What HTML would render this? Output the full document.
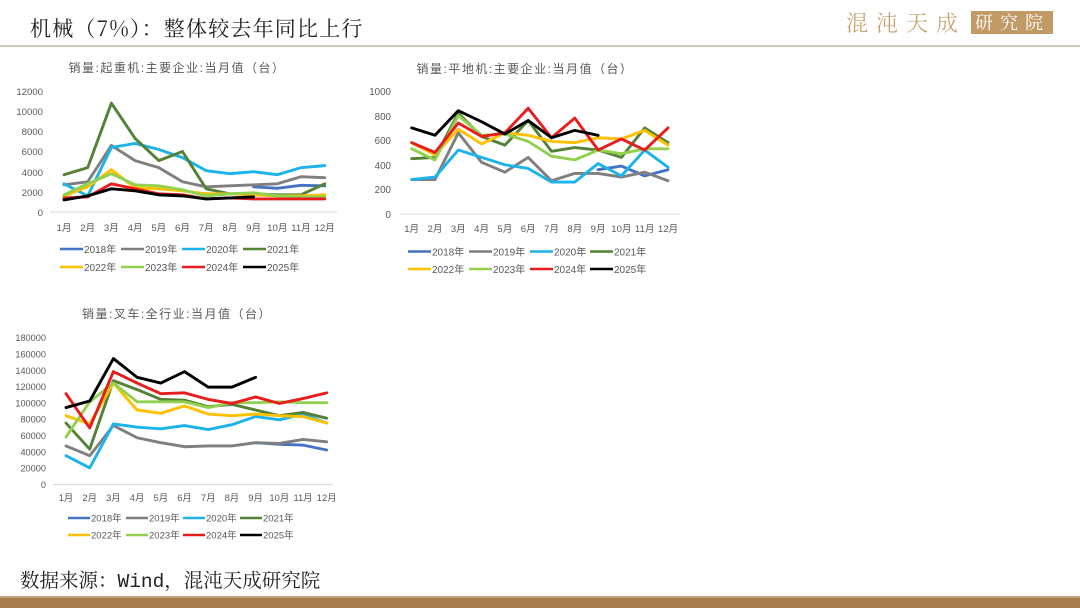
<!DOCTYPE html>
<html><head><meta charset="utf-8"><style>
html,body{margin:0;padding:0;background:#fff;}
body{width:1080px;height:608px;overflow:hidden;position:relative;font-family:"Liberation Sans","Noto Sans CJK SC",sans-serif;}
svg{position:absolute;left:0;top:0;}
.t{font-family:"Liberation Sans","Noto Sans CJK SC",sans-serif;fill:#595959;}
.ln{fill:none;stroke-width:2.9;stroke-linejoin:round;stroke-linecap:round;}
</style></head><body>
<svg width="1080" height="608" viewBox="0 0 1080 608">
<!-- header -->
<text x="30" y="36" font-family="'Noto Serif CJK SC','WenQuanYi Zen Hei',serif" font-size="21" fill="#222" letter-spacing="1.2">机械（7%）：整体较去年同比上行</text>
<rect x="0" y="45" width="1080" height="2" fill="#cdc8bb"/>
<text x="846" y="31" font-family="'Noto Serif CJK SC',serif" font-size="22" font-weight="300" fill="#c39b63" letter-spacing="8">混沌天成</text>
<rect x="971" y="11" width="82" height="23" fill="#c19a66"/>
<text x="975" y="29" font-family="'Noto Serif CJK SC',serif" font-size="18" fill="#fff" letter-spacing="7">研究院</text>

<!-- footer -->
<text x="20" y="587" font-family="'Liberation Mono','Noto Serif CJK SC',serif" font-size="19.5" fill="#222">数据来源：Wind，混沌天成研究院</text>
<rect x="0" y="596" width="1080" height="12" fill="#a67c4b"/>
<rect x="0" y="596" width="1080" height="2" fill="#c2a27a"/>

<!-- ================= Chart 1 ================= -->
<text class="t" x="177" y="72" font-size="12" text-anchor="middle" letter-spacing="1.5">销量:起重机:主要企业:当月值（台）</text>
<g class="t" font-size="9.6" text-anchor="end">
<text x="43" y="95">12000</text><text x="43" y="115">10000</text><text x="43" y="135">8000</text>
<text x="43" y="155">6000</text><text x="43" y="176">4000</text><text x="43" y="196">2000</text><text x="43" y="216">0</text>
</g>
<line x1="50" y1="212" x2="337" y2="212" stroke="#d9d9d9" stroke-width="1"/>
<g class="t" font-size="9.6" text-anchor="middle">
<text x="64" y="231">1月</text><text x="87.7" y="231">2月</text><text x="111.4" y="231">3月</text><text x="135.1" y="231">4月</text>
<text x="158.8" y="231">5月</text><text x="182.5" y="231">6月</text><text x="206.2" y="231">7月</text><text x="229.9" y="231">8月</text>
<text x="253.6" y="231">9月</text><text x="277.3" y="231">10月</text><text x="301" y="231">11月</text><text x="324.7" y="231">12月</text>
</g>
<g transform="translate(64,212) scale(23.7,-10.08)">
<polyline class="ln" vector-effect="non-scaling-stroke" stroke="#4472c4" points="8,2.5 9,2.35 10,2.65 11,2.6"/>
<polyline class="ln" vector-effect="non-scaling-stroke" stroke="#7f7f7f" points="0,2.7 1,3.0 2,6.6 3,5.1 4,4.4 5,3.0 6,2.5 7,2.6 8,2.7 9,2.8 10,3.5 11,3.4"/>
<polyline class="ln" vector-effect="non-scaling-stroke" stroke="#1cb2ea" points="0,2.8 1,1.6 2,6.4 3,6.8 4,6.2 5,5.4 6,4.1 7,3.8 8,4.0 9,3.7 10,4.4 11,4.6"/>
<polyline class="ln" vector-effect="non-scaling-stroke" stroke="#548235" points="0,3.7 1,4.4 2,10.8 3,7.3 4,5.1 5,6.0 6,2.3 7,1.8 8,1.8 9,1.7 10,1.7 11,2.8"/>
<polyline class="ln" vector-effect="non-scaling-stroke" stroke="#ffc000" points="0,1.6 1,2.5 2,4.2 3,2.4 4,2.3 5,2.1 6,1.8 7,1.8 8,1.7 9,1.6 10,1.6 11,1.7"/>
<polyline class="ln" vector-effect="non-scaling-stroke" stroke="#92d050" points="0,1.7 1,2.8 2,3.8 3,2.7 4,2.6 5,2.2 6,1.6 7,1.8 8,1.9 9,1.6 10,1.5 11,1.5"/>
<polyline class="ln" vector-effect="non-scaling-stroke" stroke="#e81c1c" points="0,1.4 1,1.5 2,2.8 3,2.3 4,1.8 5,1.7 6,1.3 7,1.4 8,1.3 9,1.3 10,1.3 11,1.3"/>
<polyline class="ln" vector-effect="non-scaling-stroke" stroke="#000" points="0,1.2 1,1.6 2,2.3 3,2.1 4,1.7 5,1.6 6,1.3 7,1.4 8,1.5"/>
</g>
<g class="t" font-size="10">
<line x1="60" y1="249" x2="83" y2="249" stroke="#4472c4" stroke-width="2.6"/><text x="84" y="253">2018年</text>
<line x1="121" y1="249" x2="144" y2="249" stroke="#7f7f7f" stroke-width="2.6"/><text x="145" y="253">2019年</text>
<line x1="182" y1="249" x2="205" y2="249" stroke="#1cb2ea" stroke-width="2.6"/><text x="206" y="253">2020年</text>
<line x1="243" y1="249" x2="266" y2="249" stroke="#548235" stroke-width="2.6"/><text x="267" y="253">2021年</text>
<line x1="60" y1="267" x2="83" y2="267" stroke="#ffc000" stroke-width="2.6"/><text x="84" y="271">2022年</text>
<line x1="121" y1="267" x2="144" y2="267" stroke="#92d050" stroke-width="2.6"/><text x="145" y="271">2023年</text>
<line x1="182" y1="267" x2="205" y2="267" stroke="#e81c1c" stroke-width="2.6"/><text x="206" y="271">2024年</text>
<line x1="243" y1="267" x2="266" y2="267" stroke="#000" stroke-width="2.6"/><text x="267" y="271">2025年</text>
</g>

<!-- ================= Chart 2 ================= -->
<text class="t" x="525" y="73" font-size="12" text-anchor="middle" letter-spacing="1.5">销量:平地机:主要企业:当月值（台）</text>
<g class="t" font-size="9.8" text-anchor="end">
<text x="391" y="95">1000</text><text x="391" y="120">800</text><text x="391" y="144">600</text>
<text x="391" y="169">400</text><text x="391" y="193">200</text><text x="391" y="218">0</text>
</g>
<line x1="400" y1="214" x2="680" y2="214" stroke="#d9d9d9" stroke-width="1"/>
<g class="t" font-size="9.6" text-anchor="middle">
<text x="411.7" y="232">1月</text><text x="435" y="232">2月</text><text x="458.3" y="232">3月</text><text x="481.6" y="232">4月</text>
<text x="504.9" y="232">5月</text><text x="528.2" y="232">6月</text><text x="551.5" y="232">7月</text><text x="574.8" y="232">8月</text>
<text x="598.1" y="232">9月</text><text x="621.4" y="232">10月</text><text x="644.7" y="232">11月</text><text x="668" y="232">12月</text>
</g>
<g transform="translate(411.7,214) scale(23.3,-12.3)">
<polyline class="ln" vector-effect="non-scaling-stroke" stroke="#4472c4" points="8,3.6 9,3.9 10,3.1 11,3.6"/>
<polyline class="ln" vector-effect="non-scaling-stroke" stroke="#7f7f7f" points="0,2.8 1,2.8 2,6.6 3,4.2 4,3.4 5,4.6 6,2.7 7,3.3 8,3.3 9,3.0 10,3.4 11,2.7"/>
<polyline class="ln" vector-effect="non-scaling-stroke" stroke="#1cb2ea" points="0,2.8 1,3.0 2,5.2 3,4.6 4,4.0 5,3.7 6,2.6 7,2.6 8,4.1 9,3.1 10,5.2 11,3.8"/>
<polyline class="ln" vector-effect="non-scaling-stroke" stroke="#548235" points="0,4.5 1,4.6 2,8.2 3,6.3 4,5.6 5,7.6 6,5.1 7,5.4 8,5.2 9,4.6 10,7.0 11,5.8"/>
<polyline class="ln" vector-effect="non-scaling-stroke" stroke="#ffc000" points="0,5.8 1,4.8 2,6.9 3,5.7 4,6.6 5,6.4 6,5.9 7,5.8 8,6.2 9,6.1 10,6.8 11,5.6"/>
<polyline class="ln" vector-effect="non-scaling-stroke" stroke="#92d050" points="0,5.3 1,4.4 2,8.0 3,6.4 4,6.5 5,5.9 6,4.7 7,4.4 8,5.2 9,4.9 10,5.3 11,5.3"/>
<polyline class="ln" vector-effect="non-scaling-stroke" stroke="#e81c1c" points="0,5.8 1,5.0 2,7.4 3,6.3 4,6.6 5,8.6 6,6.2 7,7.8 8,5.2 9,6.1 10,5.2 11,7.0"/>
<polyline class="ln" vector-effect="non-scaling-stroke" stroke="#000" points="0,7.0 1,6.4 2,8.4 3,7.5 4,6.5 5,7.6 6,6.2 7,6.8 8,6.4"/>
</g>
<g class="t" font-size="10">
<line x1="408" y1="251.5" x2="431" y2="251.5" stroke="#4472c4" stroke-width="2.6"/><text x="432" y="255.5">2018年</text>
<line x1="469" y1="251.5" x2="492" y2="251.5" stroke="#7f7f7f" stroke-width="2.6"/><text x="493" y="255.5">2019年</text>
<line x1="530" y1="251.5" x2="553" y2="251.5" stroke="#1cb2ea" stroke-width="2.6"/><text x="554" y="255.5">2020年</text>
<line x1="590" y1="251.5" x2="613" y2="251.5" stroke="#548235" stroke-width="2.6"/><text x="614" y="255.5">2021年</text>
<line x1="408" y1="269" x2="431" y2="269" stroke="#ffc000" stroke-width="2.6"/><text x="432" y="273">2022年</text>
<line x1="469" y1="269" x2="492" y2="269" stroke="#92d050" stroke-width="2.6"/><text x="493" y="273">2023年</text>
<line x1="530" y1="269" x2="553" y2="269" stroke="#e81c1c" stroke-width="2.6"/><text x="554" y="273">2024年</text>
<line x1="590" y1="269" x2="613" y2="269" stroke="#000" stroke-width="2.6"/><text x="614" y="273">2025年</text>
</g>

<!-- ================= Chart 3 ================= -->
<text class="t" x="177" y="318" font-size="12" text-anchor="middle" letter-spacing="1.5">销量:叉车:全行业:当月值（台）</text>
<g class="t" font-size="9.2" text-anchor="end">
<text x="46" y="341">180000</text><text x="46" y="357.5">160000</text><text x="46" y="373.8">140000</text>
<text x="46" y="390">120000</text><text x="46" y="406.4">100000</text><text x="46" y="422.7">80000</text>
<text x="46" y="439">60000</text><text x="46" y="455.4">40000</text><text x="46" y="471.7">20000</text><text x="46" y="488">0</text>
</g>
<line x1="53" y1="484.5" x2="333" y2="484.5" stroke="#d9d9d9" stroke-width="1"/>
<g class="t" font-size="9.4" text-anchor="middle">
<text x="66" y="501">1月</text><text x="89.7" y="501">2月</text><text x="113.4" y="501">3月</text><text x="137.1" y="501">4月</text>
<text x="160.8" y="501">5月</text><text x="184.5" y="501">6月</text><text x="208.2" y="501">7月</text><text x="231.9" y="501">8月</text>
<text x="255.6" y="501">9月</text><text x="279.3" y="501">10月</text><text x="303" y="501">11月</text><text x="326.7" y="501">12月</text>
</g>
<g transform="translate(66,484.3) scale(23.7,-8.165)">
<polyline class="ln" vector-effect="non-scaling-stroke" stroke="#4472c4" points="8,5.1 9,4.9 10,4.8 11,4.2"/>
<polyline class="ln" vector-effect="non-scaling-stroke" stroke="#7f7f7f" points="0,4.7 1,3.5 2,7.2 3,5.7 4,5.1 5,4.6 6,4.7 7,4.7 8,5.1 9,5.0 10,5.5 11,5.2"/>
<polyline class="ln" vector-effect="non-scaling-stroke" stroke="#1cb2ea" points="0,3.5 1,2.0 2,7.4 3,7.0 4,6.8 5,7.2 6,6.7 7,7.3 8,8.3 9,7.9 10,8.6 11,7.5"/>
<polyline class="ln" vector-effect="non-scaling-stroke" stroke="#548235" points="0,7.5 1,4.3 2,12.7 3,11.6 4,10.4 5,10.3 6,9.5 7,9.8 8,9.1 9,8.4 10,8.8 11,8.1"/>
<polyline class="ln" vector-effect="non-scaling-stroke" stroke="#ffc000" points="0,8.4 1,7.4 2,12.4 3,9.1 4,8.7 5,9.6 6,8.6 7,8.4 8,8.6 9,8.4 10,8.3 11,7.5"/>
<polyline class="ln" vector-effect="non-scaling-stroke" stroke="#92d050" points="0,5.8 1,10.1 2,12.4 3,10.1 4,10.1 5,10.1 6,9.4 7,10.0 8,10.0 9,10.1 10,10.0 11,10.0"/>
<polyline class="ln" vector-effect="non-scaling-stroke" stroke="#e81c1c" points="0,11.1 1,6.9 2,13.8 3,12.4 4,11.1 5,11.2 6,10.4 7,9.9 8,10.7 9,9.9 10,10.5 11,11.2"/>
<polyline class="ln" vector-effect="non-scaling-stroke" stroke="#000" points="0,9.4 1,10.2 2,15.4 3,13.1 4,12.4 5,13.8 6,11.9 7,11.9 8,13.1"/>
</g>
<g class="t" font-size="9.5">
<line x1="68" y1="518" x2="90" y2="518" stroke="#4472c4" stroke-width="2.6"/><text x="91" y="521.5">2018年</text>
<line x1="126" y1="518" x2="148" y2="518" stroke="#7f7f7f" stroke-width="2.6"/><text x="149" y="521.5">2019年</text>
<line x1="183" y1="518" x2="205" y2="518" stroke="#1cb2ea" stroke-width="2.6"/><text x="206" y="521.5">2020年</text>
<line x1="240" y1="518" x2="262" y2="518" stroke="#548235" stroke-width="2.6"/><text x="263" y="521.5">2021年</text>
<line x1="68" y1="535" x2="90" y2="535" stroke="#ffc000" stroke-width="2.6"/><text x="91" y="538.5">2022年</text>
<line x1="126" y1="535" x2="148" y2="535" stroke="#92d050" stroke-width="2.6"/><text x="149" y="538.5">2023年</text>
<line x1="183" y1="535" x2="205" y2="535" stroke="#e81c1c" stroke-width="2.6"/><text x="206" y="538.5">2024年</text>
<line x1="240" y1="535" x2="262" y2="535" stroke="#000" stroke-width="2.6"/><text x="263" y="538.5">2025年</text>
</g>
</svg>
</body></html>
